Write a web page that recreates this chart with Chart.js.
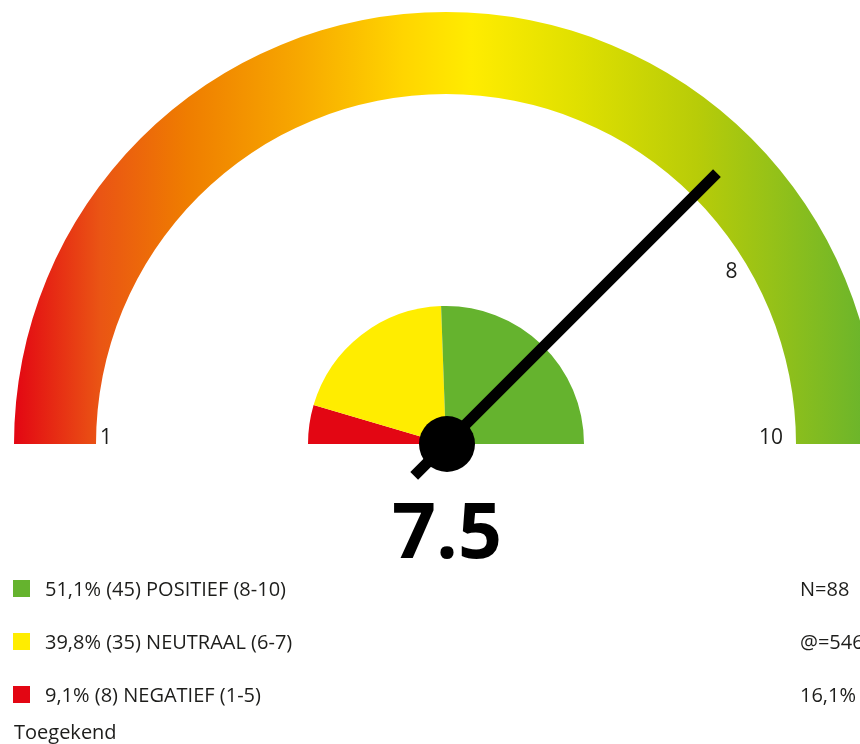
<!DOCTYPE html>
<html>
<head>
<meta charset="utf-8">
<script src="https://cdn.jsdelivr.net/npm/chart.js@4/dist/chart.umd.min.js"></script>
<style>
  html, body { margin: 0; padding: 0; width: 860px; height: 744px; overflow: hidden; background: #fff; }
  #wrap { position: absolute; left: 0; top: 0; width: 892px; height: 744px; }
  .leg { position: absolute; font-family: "Open Sans", sans-serif; font-size: 20px; color: #1d1d1b; white-space: nowrap; line-height: 26px; }
  .sw { position: absolute; width: 17px; height: 17px; }
</style>
</head>
<body>
<div id="wrap"><canvas id="c"></canvas></div>
<div id="legend"></div>
<script>
// ---- data ----
const categories = ['POSITIEF (8-10)', 'NEUTRAAL (6-7)', 'NEGATIEF (1-5)'];
const counts = [45, 35, 8];
const percentages = ['51,1%', '39,8%', '9,1%'];
const seriesColors = ['#65b32e', '#ffed00', '#e30613'];
const score = 7.5;
const gaugeMin = 0;
const gaugeMax = 10;
const tickLabels = ['1', '8', '10'];
const infoLines = ['N=88', '@=546', '16,1%'];
const footLabel = 'Toegekend';

// ---- geometry / style ----
const R = 432;
const gradStops = [
  [0.00, '#e30613'], [0.10, '#ea5514'], [0.20, '#ef7d00'], [0.33, '#f7a800'],
  [0.45, '#ffd500'], [0.53, '#ffec00'], [0.65, '#e0e000'], [0.79, '#b8cc08'], [1.00, '#65b32e']
];

const gaugePlugin = {
  id: 'gaugeExtras',
  afterDatasetsDraw(chart) {
    const arc = chart.getDatasetMeta(0).data[0];
    const cx = arc.x, cy = arc.y, r = arc.outerRadius, ri = arc.innerRadius;
    const c = chart.ctx;
    c.save();
    // tick labels
    c.fillStyle = '#1d1d1b';
    c.font = '21px "Open Sans", sans-serif';
    c.textBaseline = 'alphabetic';
    c.textAlign = 'left';
    c.fillText(tickLabels[0], cx - ri + 4, cy);
    c.textAlign = 'right';
    c.fillText(tickLabels[2], cx + ri - 13, cy);
    c.textAlign = 'center';
    c.textBaseline = 'middle';
    const a8 = 31 * Math.PI / 180, r8 = 333;
    c.fillText(tickLabels[1], cx + r8 * Math.cos(a8), cy - r8 * Math.sin(a8));
    // needle
    const frac = (score - gaugeMin) / (gaugeMax - gaugeMin);
    const ang = Math.PI + frac * Math.PI;
    const L = r * 0.887, B = 45;
    c.strokeStyle = '#000';
    c.lineWidth = 11;
    c.lineCap = 'butt';
    c.beginPath();
    c.moveTo(cx - B * Math.cos(ang), cy - B * Math.sin(ang));
    c.lineTo(cx + L * Math.cos(ang), cy + L * Math.sin(ang));
    c.stroke();
    c.fillStyle = '#000';
    c.beginPath();
    c.arc(cx + 1, cy, 28, 0, Math.PI * 2);
    c.fill();
    // score
    c.font = 'bold 77px "Open Sans", sans-serif';
    c.textAlign = 'center';
    c.textBaseline = 'alphabetic';
    c.fillText(String(score), cx + 1, cy + 114);
    c.restore();
  }
};

const pieOrder = [2, 1, 0];
new Chart(document.getElementById('c'), {
  type: 'doughnut',
  data: {
    labels: pieOrder.map(i => categories[i]),
    datasets: [
      {
        data: [gaugeMax - gaugeMin],
        weight: 82,
        borderWidth: 0,
        backgroundColor: (ctx) => {
          const ca = ctx.chart.chartArea;
          if (!ca) return '#f7a800';
          const mx = (ca.left + ca.right) / 2;
          const g = ctx.chart.ctx.createLinearGradient(mx - R, 0, mx + R, 0);
          gradStops.forEach(s => g.addColorStop(s[0], s[1]));
          return g;
        }
      },
      { data: [1], weight: 212, borderWidth: 0, backgroundColor: 'rgba(0,0,0,0)' },
      {
        data: pieOrder.map(i => counts[i]),
        weight: 138,
        borderWidth: 0,
        backgroundColor: pieOrder.map(i => seriesColors[i])
      }
    ]
  },
  options: {
    responsive: true,
    maintainAspectRatio: false,
    animation: false,
    events: [],
    rotation: -90,
    circumference: 180,
    cutout: 0,
    radius: R,
    layout: { padding: { left: 0, right: 0, top: 0, bottom: 288 } },
    plugins: { legend: { display: false }, tooltip: { enabled: false } }
  },
  plugins: [gaugePlugin]
});

// ---- legend (HTML text) ----
const legend = document.getElementById('legend');
const rowTops = [580, 633, 686];
categories.forEach((cat, i) => {
  const sw = document.createElement('div');
  sw.className = 'sw';
  sw.style.left = '13px';
  sw.style.top = rowTops[i] + 'px';
  sw.style.background = seriesColors[i];
  legend.appendChild(sw);
  const t = document.createElement('div');
  t.className = 'leg';
  t.style.left = '45px';
  t.style.top = (rowTops[i] - 4) + 'px';
  t.textContent = percentages[i] + ' (' + counts[i] + ') ' + cat;
  legend.appendChild(t);
  const info = document.createElement('div');
  info.className = 'leg';
  info.style.left = '800px';
  info.style.top = (rowTops[i] - 4) + 'px';
  info.textContent = infoLines[i];
  legend.appendChild(info);
});
const foot = document.createElement('div');
foot.className = 'leg';
foot.style.left = '14px';
foot.style.top = '719px';
foot.textContent = footLabel;
legend.appendChild(foot);
</script>
</body>
</html>
